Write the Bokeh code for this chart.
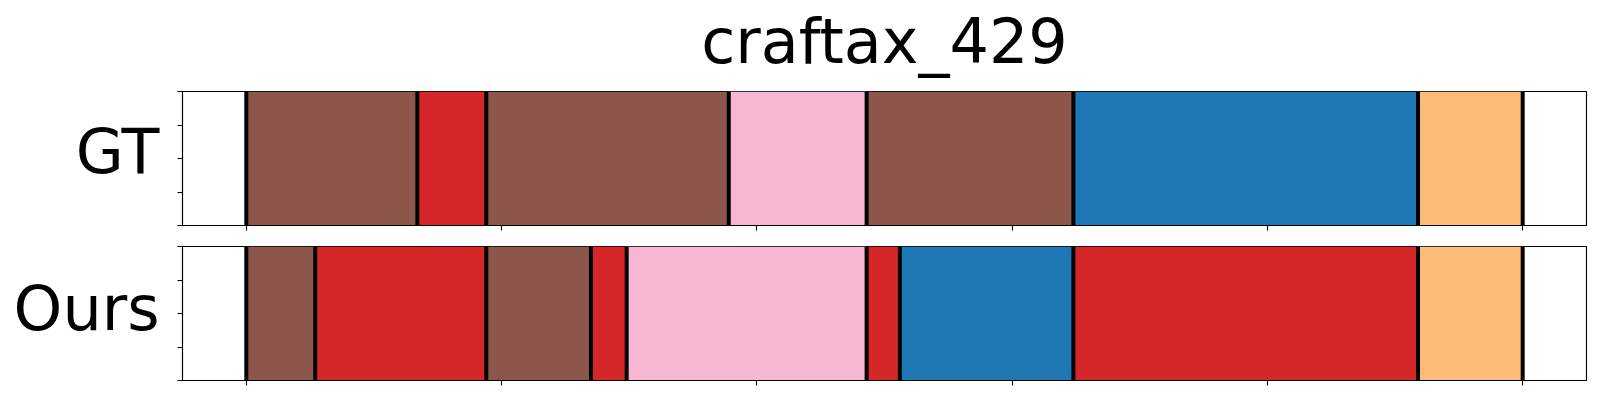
from bokeh.plotting import figure
from bokeh.layouts import column
from bokeh.models import Range1d, FixedTicker, ColumnDataSource, LinearAxis
from bokeh.embed import file_html
from bokeh.resources import INLINE

# ---- data ----
title_text = "craftax_429"
row_labels = ["GT", "Ours"]
x_ticks = [0, 100, 200, 300, 400, 500]
y_ticks = [0.0, 0.25, 0.5, 0.75, 1.0]
total_len = 500

gt_bounds = [0, 67, 94, 189, 243, 324, 459, 500]
gt_colors = ["#8c564b", "#d62728", "#8c564b", "#f7b6d2", "#8c564b", "#1f77b4", "#ffbb78"]

ours_bounds = [0, 27, 94, 135, 149, 243, 256, 324, 459, 500]
ours_colors = ["#8c564b", "#d62728", "#8c564b", "#d62728", "#f7b6d2",
               "#d62728", "#1f77b4", "#d62728", "#ffbb78"]

FONT = "DejaVu Sans"
# vertical anchor (in axis fraction) of each row label
label_anchor = [0.55, 0.54]


def make_fig(idx, label, bounds, colors, top):
    kw = dict(
        frame_width=1404, frame_height=134,
        x_range=Range1d(-0.05 * total_len, 1.05 * total_len),
        y_range=Range1d(0, 1),
        output_backend="svg", toolbar_location=None,
        min_border_left=182, min_border_right=12,
    )
    if top:
        kw.update(min_border_top=91, min_border_bottom=10)
    else:
        kw.update(min_border_top=11, min_border_bottom=12)
    p = figure(**kw)

    src = ColumnDataSource(dict(
        left=bounds[:-1], right=bounds[1:], color=colors,
    ))
    p.quad(left="left", right="right", bottom=0, top=1, fill_color="color",
           line_color=None, source=src)
    p.segment(x0=bounds, y0=[0] * len(bounds), x1=bounds, y1=[1] * len(bounds),
              line_color="black", line_width=4)
    p.grid.visible = False
    p.outline_line_color = "black"
    p.outline_line_width = 1.1
    p.background_fill_color = "white"
    p.border_fill_color = "white"

    for ax, ticks in ((p.xaxis[0], x_ticks), (p.yaxis[0], y_ticks)):
        ax.ticker = FixedTicker(ticks=ticks)
        ax.major_label_text_font_size = "0px"
        ax.major_label_text_color = None
        ax.major_label_standoff = 0
        ax.major_tick_in = 0
        ax.major_tick_out = 5
        ax.major_tick_line_width = 1.1
        ax.axis_line_width = 1.1
        ax.minor_tick_line_color = None
        ax.axis_line_color = "black"
        ax.major_tick_line_color = "black"

    # row label as a tick label of a second, line-less left axis
    la = LinearAxis(
        ticker=FixedTicker(ticks=[label_anchor[idx]]),
        major_label_overrides={label_anchor[idx]: label},
        major_label_text_font=FONT, major_label_text_font_size="62px",
        major_label_text_color="black", major_label_standoff=18,
        major_tick_in=0, major_tick_out=0, major_tick_line_color=None,
        minor_tick_line_color=None, axis_line_color=None,
    )
    p.add_layout(la, "left")

    if top:
        # chart title as the label of a bare axis above the frame
        ta = LinearAxis(
            ticker=FixedTicker(ticks=[]),
            axis_label=title_text, axis_label_text_font=FONT,
            axis_label_text_font_size="62px", axis_label_text_font_style="normal",
            axis_label_text_color="black", axis_label_standoff=14,
            major_label_standoff=0, major_label_text_font_size="0px",
            major_label_text_color=None,
            major_tick_in=0, major_tick_out=0, major_tick_line_color=None,
            minor_tick_line_color=None, axis_line_color=None,
        )
        p.add_layout(ta, "above")
    return p


p1 = make_fig(0, row_labels[0], gt_bounds, gt_colors, True)
p2 = make_fig(1, row_labels[1], ours_bounds, ours_colors, False)
layout = column(p1, p2, spacing=0)

open("out.html", "w").write(file_html(layout, INLINE))
